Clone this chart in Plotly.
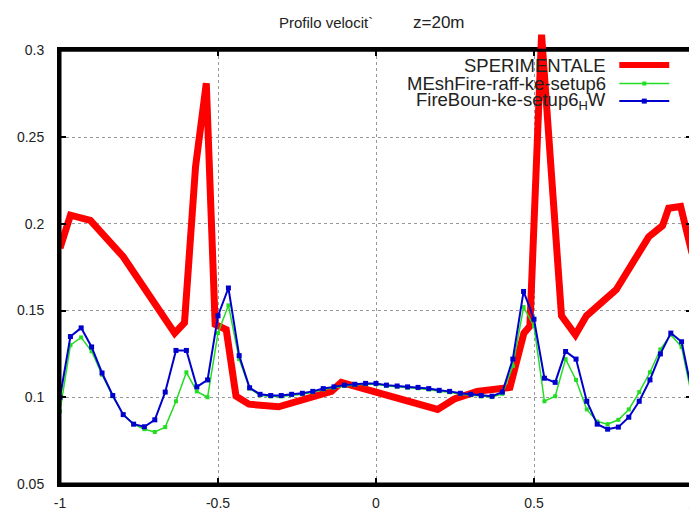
import plotly.graph_objects as go

# ---- data ----
x_exp = [-1.0, -0.967, -0.904, -0.80, -0.637, -0.606, -0.571, -0.537, -0.509, -0.474,
         -0.443, -0.402, -0.308, -0.245, -0.141, -0.11, -0.066, 0.006, 0.195, 0.248,
         0.32, 0.424, 0.468, 0.487, 0.524, 0.587, 0.631, 0.666, 0.76, 0.863,
         0.907, 0.926, 0.964, 1.0]
v_exp = [0.186, 0.205, 0.202, 0.181, 0.137, 0.143, 0.233, 0.281, 0.142, 0.139,
         0.1006, 0.096, 0.0945, 0.0975, 0.1034, 0.1086, 0.1063, 0.103, 0.093, 0.099,
         0.1034, 0.1057, 0.137, 0.141, 0.309, 0.147, 0.136, 0.147, 0.162, 0.1925,
         0.199, 0.209, 0.21, 0.183]

x_sim = [-1.0, -0.967, -0.933, -0.9, -0.867, -0.833, -0.8, -0.767, -0.733, -0.7,
         -0.667, -0.633, -0.6, -0.567, -0.533, -0.5, -0.467, -0.433, -0.4, -0.367,
         -0.333, -0.3, -0.267, -0.233, -0.2, -0.167, -0.133, -0.1, -0.067, -0.033,
         0.0, 0.033, 0.067, 0.1, 0.133, 0.167, 0.2, 0.233, 0.267, 0.3,
         0.333, 0.367, 0.4, 0.433, 0.467, 0.5, 0.533, 0.567, 0.6, 0.633,
         0.667, 0.7, 0.733, 0.767, 0.8, 0.833, 0.867, 0.9, 0.933, 0.967, 1.0]

v_meshfire = [0.092, 0.130, 0.1345, 0.1265, 0.113, 0.1006, 0.090, 0.0845, 0.0816, 0.080,
              0.0828, 0.0977, 0.1144, 0.1034, 0.100, 0.137, 0.153, 0.122, 0.105, 0.1012,
              0.1005, 0.1005, 0.1012, 0.1018, 0.1029, 0.1045, 0.1055, 0.1065, 0.107, 0.1075,
              0.1075, 0.1065, 0.106, 0.1055, 0.1052, 0.1045, 0.1035, 0.1029, 0.1018, 0.1012,
              0.1005, 0.1001, 0.102, 0.118, 0.152, 0.141, 0.0977, 0.1006, 0.122, 0.110,
              0.093, 0.086, 0.0845, 0.087, 0.093, 0.103, 0.1144, 0.1276, 0.136, 0.129, 0.100]

v_fireboun = [0.100, 0.135, 0.140, 0.129, 0.114, 0.101, 0.090, 0.0845, 0.083, 0.087,
              0.103, 0.127, 0.127, 0.106, 0.110, 0.147, 0.163, 0.124, 0.1055, 0.1017,
              0.101, 0.101, 0.1017, 0.1023, 0.1034, 0.105, 0.106, 0.107, 0.1075, 0.108,
              0.108, 0.107, 0.1065, 0.106, 0.1057, 0.105, 0.104, 0.1034, 0.1023, 0.1017,
              0.101, 0.1006, 0.103, 0.122, 0.161, 0.145, 0.111, 0.1086, 0.1264, 0.122,
              0.0977, 0.0845, 0.0816, 0.0828, 0.0885, 0.0977, 0.110, 0.125, 0.137, 0.132, 0.103]

series_names = ["SPERIMENTALE", "MEshFire-raff-ke-setup6", "FireBoun-ke-setup6<sub>H</sub>W"]
x_ticks = [-1, -0.5, 0, 0.5, 1]
x_tick_labels = ["-1", "-0.5", "0", "0.5", "1"]
y_ticks = [0.05, 0.1, 0.15, 0.2, 0.25, 0.3]
y_tick_labels = ["0.05", "0.1", "0.15", "0.2", "0.25", "0.3"]
title_parts = ["Profilo velocit`", "z=20m"]

RED = "#ff0000"
GREEN = "#22dd22"
BLUE = "#0000cc"
TXT = "#222222"
FRAME = "#000000"
FONT = "Liberation Sans, Arial, sans-serif"

Y_MIN, Y_MAX, Y_OVER = 0.05, 0.3, 0.31
main_top = (Y_MAX - Y_MIN) / (Y_OVER - Y_MIN)

fig = go.Figure()
fig.add_trace(go.Scatter(x=x_exp, y=v_exp, mode="lines",
                         line=dict(color=RED, width=7), name=series_names[0]))
fig.add_trace(go.Scatter(x=x_sim, y=v_meshfire, mode="lines+markers",
                         line=dict(color=GREEN, width=1.5),
                         marker=dict(symbol="square", size=4, color=GREEN),
                         name=series_names[1]))
fig.add_trace(go.Scatter(x=x_sim, y=v_fireboun, mode="lines+markers",
                         line=dict(color=BLUE, width=2),
                         marker=dict(symbol="square", size=5, color=BLUE),
                         name=series_names[2]))
# overshoot of the measured curve above the frame (thin strip subplot)
fig.add_trace(go.Scatter(x=x_exp, y=v_exp, mode="lines", xaxis="x2", yaxis="y2",
                         line=dict(color=RED, width=7), showlegend=False,
                         hoverinfo="skip"))

shapes = []
# white key area hides the grid, as gnuplot does
shapes.append(dict(type="rect", xref="paper", yref="paper", x0=0.44, x1=0.99,
                   y0=0.823, y1=0.952, fillcolor="white", line=dict(width=0),
                   layer="between"))
# frame drawn as four separate lines (paper refs)
frame_edges = [(0, 0, 1, 0), (0, main_top, 1, main_top), (0, 0, 0, main_top), (1, 0, 1, main_top)]
for (a0, b0, a1, b1) in frame_edges:
    shapes.append(dict(type="line", xref="paper", yref="paper", x0=a0, y0=b0, x1=a1, y1=b1,
                       line=dict(color=FRAME, width=3), layer="above"))

# custom key (text left of the sample, like gnuplot)
key_rows = [0.929, 0.888, 0.849]
key_styles = [(RED, 6, None), (GREEN, 1.5, 4), (BLUE, 2, 5)]
annotations = []
for name, yk, (col, w, ms) in zip(series_names, key_rows, key_styles):
    annotations.append(dict(xref="paper", yref="paper", x=0.867, y=yk,
                            xanchor="right", yanchor="middle", text=name,
                            showarrow=False, font=dict(family=FONT, size=18.5, color=TXT)))
    shapes.append(dict(type="line", xref="paper", yref="paper", x0=0.885, x1=0.964,
                       y0=yk, y1=yk, line=dict(color=col, width=w), layer="above"))
    if ms:
        hw = ms / 2 / 635
        hh = ms / 2 / 452
        shapes.append(dict(type="rect", xref="paper", yref="paper",
                           x0=0.9245 - hw, x1=0.9245 + hw, y0=yk - hh, y1=yk + hh,
                           fillcolor=col, line=dict(width=0), layer="above"))

# title in two parts, as in the reference
annotations.append(dict(xref="paper", yref="paper", x=0.343, y=1.0243,
                        xanchor="left", yanchor="middle", text=title_parts[0],
                        showarrow=False, font=dict(family=FONT, size=15, color=TXT)))
annotations.append(dict(xref="paper", yref="paper", x=0.6, y=1.0243,
                        xanchor="center", yanchor="middle", text=title_parts[1],
                        showarrow=False, font=dict(family=FONT, size=17, color=TXT)))

axis_common = dict(zeroline=False, showline=True, linecolor=FRAME, linewidth=3,
                   mirror="ticks", ticks="inside", ticklen=6, tickwidth=2,
                   tickcolor=FRAME, showgrid=True, gridcolor="#999999",
                   gridwidth=1, griddash="dot",
                   tickfont=dict(family=FONT, size=14, color=TXT))

fig.update_layout(
    width=689, height=505,
    margin=dict(l=52, r=2, t=25, b=28),
    paper_bgcolor="white", plot_bgcolor="white",
    showlegend=False,
    font=dict(family=FONT, size=14, color=TXT),
    shapes=shapes, annotations=annotations,
    xaxis=dict(range=[-1, 1], tickvals=x_ticks, ticktext=x_tick_labels,
               ticklabelstandoff=4, domain=[0, 1], layer="above traces", **axis_common),
    yaxis=dict(range=[Y_MIN, Y_MAX], tickvals=y_ticks, ticktext=y_tick_labels,
               ticklabelstandoff=10, domain=[0, main_top], layer="above traces", **axis_common),
    xaxis2=dict(range=[-1, 1], domain=[0, 1], anchor="y2", visible=False),
    yaxis2=dict(range=[Y_MAX, Y_OVER], domain=[main_top, 1], anchor="x2",
                visible=False),
)

fig.write_html("out.html")
